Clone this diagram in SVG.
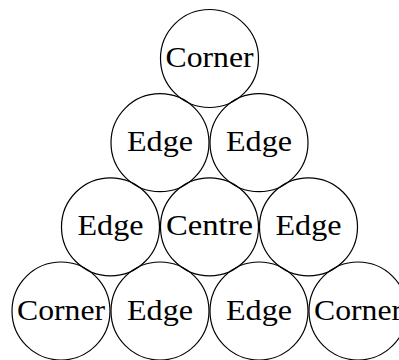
<svg xmlns="http://www.w3.org/2000/svg" width="399" height="360" viewBox="0 0 399 360">
<style>
.n circle{fill:none;stroke:#000;stroke-width:1.2}
.n text{font-family:"Liberation Serif","DejaVu Serif",serif;font-size:30px;text-anchor:middle;fill:#000}
</style>
<rect width="399" height="360" fill="#fff"/>
<g id="connectors"></g>
<g id="n1" class="n"><circle cx="209.5" cy="58.5" r="49"/><text x="209.5" y="67" textLength="88" lengthAdjust="spacingAndGlyphs">Corner</text></g>
<g id="n2" class="n"><circle cx="160" cy="142.7" r="49"/><text x="160" y="151.2" textLength="66" lengthAdjust="spacingAndGlyphs">Edge</text></g>
<g id="n3" class="n"><circle cx="259" cy="142.7" r="49"/><text x="259" y="151.2" textLength="66" lengthAdjust="spacingAndGlyphs">Edge</text></g>
<g id="n4" class="n"><circle cx="110.5" cy="226.9" r="49"/><text x="110.5" y="235.4" textLength="66" lengthAdjust="spacingAndGlyphs">Edge</text></g>
<g id="n5" class="n"><circle cx="209.5" cy="226.9" r="49"/><text x="209.5" y="235.4" textLength="87" lengthAdjust="spacingAndGlyphs">Centre</text></g>
<g id="n6" class="n"><circle cx="308.5" cy="226.9" r="49"/><text x="308.5" y="235.4" textLength="66" lengthAdjust="spacingAndGlyphs">Edge</text></g>
<g id="n7" class="n"><circle cx="61" cy="311" r="49"/><text x="61" y="319.5" textLength="88" lengthAdjust="spacingAndGlyphs">Corner</text></g>
<g id="n8" class="n"><circle cx="160" cy="311" r="49"/><text x="160" y="319.5" textLength="66" lengthAdjust="spacingAndGlyphs">Edge</text></g>
<g id="n9" class="n"><circle cx="259" cy="311" r="49"/><text x="259" y="319.5" textLength="66" lengthAdjust="spacingAndGlyphs">Edge</text></g>
<g id="n10" class="n"><circle cx="358" cy="311" r="49"/><text x="358" y="319.5" textLength="88" lengthAdjust="spacingAndGlyphs">Corner</text></g>
</svg>
